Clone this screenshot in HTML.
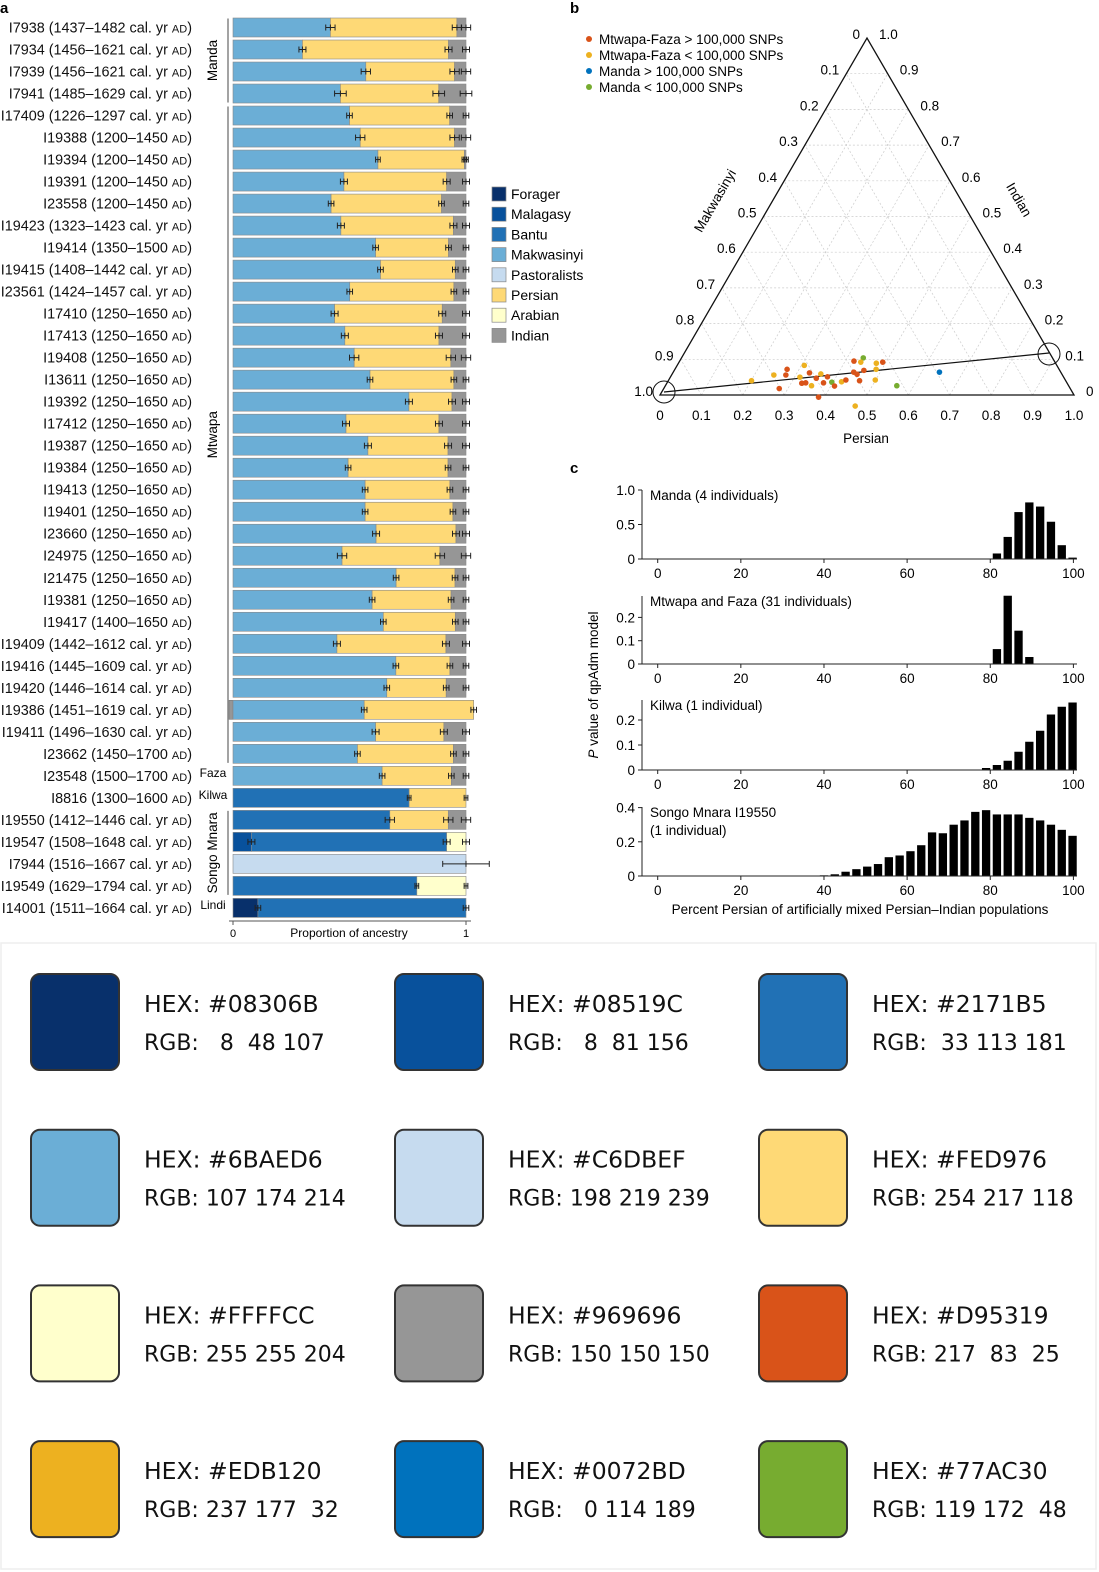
<!DOCTYPE html>
<html><head><meta charset="utf-8">
<style>
body{margin:0;background:#fff;}
svg{display:block;font-family:"Liberation Sans",Arial,sans-serif;}
.sw text{font-family:"DejaVu Sans","Liberation Sans",sans-serif;}
</style></head>
<body>
<svg id="fig" width="1099" height="1572" viewBox="0 0 1099 1572" xmlns="http://www.w3.org/2000/svg">
<rect x="0" y="0" width="1099" height="1572" fill="#fff"/>
<text x="0" y="13" font-size="15" font-weight="bold">a</text>
<text x="570" y="13" font-size="15" font-weight="bold">b</text>
<text x="570" y="473" font-size="15" font-weight="bold">c</text>
<g id="barA"></g>
<g id="tri"></g>
<g id="hist"></g>
<g id="sw" class="sw"></g>
</svg>
<script>
// ---------- Panel a data ----------
const sampleIds = ["I7938","I7934","I7939","I7941","I17409","I19388","I19394","I19391","I23558","I19423","I19414","I19415","I23561","I17410","I17413","I19408","I13611","I19392","I17412","I19387","I19384","I19413","I19401","I23660","I24975","I21475","I19381","I19417","I19409","I19416","I19420","I19386","I19411","I23662","I23548","I8816","I19550","I19547","I7944","I19549","I14001"];
const sampleDates = ["1437–1482 cal. yr ","1456–1621 cal. yr ","1456–1621 cal. yr ","1485–1629 cal. yr ","1226–1297 cal. yr ","1200–1450 ","1200–1450 ","1200–1450 ","1200–1450 ","1323–1423 cal. yr ","1350–1500 ","1408–1442 cal. yr ","1424–1457 cal. yr ","1250–1650 ","1250–1650 ","1250–1650 ","1250–1650 ","1250–1650 ","1250–1650 ","1250–1650 ","1250–1650 ","1250–1650 ","1250–1650 ","1250–1650 ","1250–1650 ","1250–1650 ","1250–1650 ","1400–1650 ","1442–1612 cal. yr ","1445–1609 cal. yr ","1446–1614 cal. yr ","1451–1619 cal. yr ","1496–1630 cal. yr ","1450–1700 ","1500–1700 ","1300–1600 ","1412–1446 cal. yr ","1508–1648 cal. yr ","1516–1667 cal. yr ","1629–1794 cal. yr ","1511–1664 cal. yr "];
const forager   = [0,0,0,0,0,0,0,0,0,0,0,0,0,0,0,0,0,0,0,0,0,0,0,0,0,0,0,0,0,0,0,0,0,0,0,0,0,0,0,0,0.107];
const malagasy  = [0,0,0,0,0,0,0,0,0,0,0,0,0,0,0,0,0,0,0,0,0,0,0,0,0,0,0,0,0,0,0,0,0,0,0,0,0,0.079,0,0,0];
const bantu     = [0,0,0,0,0,0,0,0,0,0,0,0,0,0,0,0,0,0,0,0,0,0,0,0,0,0,0,0,0,0,0,0,0,0,0,0.756,0.673,0.838,0,0.789,0.893];
const makwasinyi= [0.418,0.298,0.570,0.461,0.500,0.546,0.622,0.476,0.421,0.463,0.612,0.633,0.501,0.436,0.480,0.520,0.588,0.755,0.485,0.579,0.494,0.567,0.567,0.614,0.468,0.700,0.597,0.645,0.446,0.699,0.660,0.563,0.612,0.534,0.640,0,0,0,0,0,0];
const pastoral  = [0,0,0,0,0,0,0,0,0,0,0,0,0,0,0,0,0,0,0,0,0,0,0,0,0,0,0,0,0,0,0,0,0,0,0,0,0,0,1.0,0,0];
const persian   = [0.543,0.627,0.381,0.422,0.430,0.405,0.371,0.441,0.474,0.483,0.313,0.321,0.447,0.462,0.404,0.415,0.360,0.185,0.399,0.344,0.429,0.364,0.377,0.343,0.420,0.253,0.339,0.309,0.468,0.232,0.255,0.470,0.293,0.412,0.297,0.244,0.251,0,0,0,0];
const arabian   = [0,0,0,0,0,0,0,0,0,0,0,0,0,0,0,0,0,0,0,0,0,0,0,0,0,0,0,0,0,0,0,0,0,0,0,0,0,0.083,0,0.211,0];
const indian    = [0.039,0.075,0.049,0.117,0.070,0.049,0.007,0.083,0.105,0.054,0.075,0.046,0.052,0.102,0.116,0.065,0.052,0.060,0.116,0.077,0.077,0.069,0.056,0.043,0.112,0.047,0.064,0.046,0.086,0.069,0.085,-0.017,0.095,0.054,0.063,0,0.076,0,0,0,0];
const errHalf   = [0.02,0.015,0.02,0.025,0.012,0.02,0.01,0.015,0.012,0.015,0.012,0.012,0.012,0.015,0.015,0.02,0.012,0.015,0.015,0.015,0.012,0.012,0.012,0.015,0.02,0.012,0.012,0.012,0.015,0.012,0.012,0.012,0.015,0.012,0.012,0.008,0.02,0.015,0.1,0.008,0.012];
const compNames = ["Forager","Malagasy","Bantu","Makwasinyi","Pastoralists","Persian","Arabian","Indian"];
const compColors= ["#08306B","#08519C","#2171B5","#6BAED6","#C6DBEF","#FED976","#FFFFCC","#969696"];

// ---------- Panel b data ----------
const ptPersian = [0.201,0.247,0.276,0.271,0.279,0.307,0.313,0.326,0.335,0.330,0.353,0.354,0.359,0.386,0.378,0.379,0.397,0.409,0.420,0.428,0.421,0.439,0.439,0.436,0.447,0.462,0.458,0.487,0.478,0.492,0.486,0.499,0.559,0.643];
const ptIndian  = [0.040,0.056,0.056,0.072,0.018,0.083,0.050,0.033,0.034,0.062,0.026,0.047,0.059,-0.006,0.034,0.051,0.036,0.025,0.037,0.042,0.095,0.104,0.092,0.064,0.058,0.040,0.069,-0.031,0.089,0.092,0.072,0.042,0.026,0.064];
const ptGroup   = [1,1,0,0,0,1,1,0,0,0,1,0,1,0,0,0,3,0,1,0,0,3,1,0,0,0,0,1,1,0,1,1,3,2];
const groupNames = ["Mtwapa-Faza > 100,000 SNPs","Mtwapa-Faza < 100,000 SNPs","Manda > 100,000 SNPs","Manda < 100,000 SNPs"];
const groupColors = ["#D95319","#EDB120","#0072BD","#77AC30"];

// ---------- Panel c data ----------
const histTitles = [["Manda (4 individuals)"],["Mtwapa and Faza (31 individuals)"],["Kilwa (1 individual)"],["Songo Mnara I19550","(1 individual)"]];
const mandaX = [81.6,84.2,86.8,89.4,92.0,94.6,97.2,99.8];
const mandaP = [0.08,0.32,0.68,0.82,0.76,0.54,0.20,0.02];
const mtwapaX = [81.6,84.2,86.8,89.4];
const mtwapaP = [0.064,0.293,0.143,0.03];
const kilwaX = [76.4,79.0,81.6,84.2,86.8,89.4,92.0,94.6,97.2,99.8];
const kilwaP = [0.002,0.008,0.02,0.037,0.073,0.113,0.157,0.222,0.253,0.27];
const songoX = [37.4,40.0,42.6,45.2,47.8,50.4,53.0,55.6,58.2,60.8,63.4,66.0,68.6,71.2,73.8,76.4,79.0,81.6,84.2,86.8,89.4,92.0,94.6,97.2,99.8];
const songoP = [0.002,0.004,0.01,0.025,0.04,0.055,0.07,0.11,0.12,0.145,0.18,0.255,0.25,0.3,0.325,0.375,0.385,0.36,0.36,0.36,0.34,0.325,0.3,0.27,0.235];
const histTicksY = [[0,0.5,1.0],[0,0.1,0.2],[0,0.1,0.2],[0,0.2,0.4]];
const histTickLbl = [["0","0.5","1.0"],["0","0.1","0.2"],["0","0.1","0.2"],["0","0.2","0.4"]];
const xTicks = [0,20,40,60,80,100];

// ---------- Swatch data ----------
const swHex = ["#08306B","#08519C","#2171B5","#6BAED6","#C6DBEF","#FED976","#FFFFCC","#969696","#D95319","#EDB120","#0072BD","#77AC30"];
const swRgb = ["  8  48 107","  8  81 156"," 33 113 181","107 174 214","198 219 239","254 217 118","255 255 204","150 150 150","217  83  25","237 177  32","  0 114 189","119 172  48"];

const NS="http://www.w3.org/2000/svg";
function mk(parent,tag,attrs,text){const e=document.createElementNS(NS,tag);for(const k in attrs)e.setAttribute(k,attrs[k]);if(text!==undefined)e.textContent=text;parent.appendChild(e);return e;}

// ===== Panel a =====
(function(){
const g=document.getElementById('barA');
const X0=233,W=233,Y0=27.5,DY=22.01,BH=19;
const xs=v=>X0+W*v, ys=i=>Y0+DY*i;
const comps=[forager,malagasy,bantu,makwasinyi,pastoral,persian,arabian,indian];
sampleIds.forEach((id,i)=>{
  const y=ys(i);
  const t=mk(g,'text',{x:192,y:y+5,'font-size':14.4,'text-anchor':'end',fill:'#111'});
  
  
  t.textContent=id+' ('+sampleDates[i];
  mk(t,'tspan',{'font-size':11},'AD');
  mk(t,'tspan',{},')');
  let cum=0;
  if(indian[i]<0){
    const r=mk(g,'rect',{x:xs(indian[i]),y:y-BH/2,width:W*(-indian[i]),height:BH,fill:compColors[7],stroke:'#777','stroke-width':0.6});
    
    
  }
  const bounds=[];
  comps.forEach((arr,c)=>{
    const v=arr[i]; if(v<=0) return;
    const r=mk(g,'rect',{x:xs(cum),y:y-BH/2,width:W*v,height:BH,fill:compColors[c],stroke:'#888','stroke-width':0.6});
    
    
    cum+=v; bounds.push(cum);
  });
  bounds.forEach(b=>{
    const e=errHalf[i];
    mk(g,'line',{x1:xs(b-e),x2:xs(b+e),y1:y,y2:y,stroke:'#222','stroke-width':1});
    mk(g,'line',{x1:xs(b-e),x2:xs(b-e),y1:y-3,y2:y+3,stroke:'#222','stroke-width':1});
    mk(g,'line',{x1:xs(b+e),x2:xs(b+e),y1:y-3,y2:y+3,stroke:'#222','stroke-width':1});
    mk(g,'line',{x1:xs(b),x2:xs(b),y1:y-3,y2:y+3,stroke:'#222','stroke-width':1});
  });
});
const grp=[["Manda",0,3],["Mtwapa",4,33],["Songo Mnara",36,39]];
grp.forEach(([n,a,b])=>{
  mk(g,'line',{x1:228,x2:228,y1:ys(a)-9,y2:ys(b)+9,stroke:'#666','stroke-width':1.2});
  const t=mk(g,'text',{x:0,y:0,'font-size':13.5,'text-anchor':'middle',transform:`translate(217,${(ys(a)+ys(b))/2}) rotate(-90)`},n);
  
  
});
[["Faza",34],["Kilwa",35],["Lindi",40]].forEach(([n,i])=>{
  const t=mk(g,'text',{x:213,y:ys(i)+1,'font-size':12,'text-anchor':'middle'},n);
  
  
});
mk(g,'line',{x1:229,x2:471,y1:921,y2:921,stroke:'#555','stroke-width':1});
[0,1].forEach(v=>{mk(g,'line',{x1:xs(v),x2:xs(v),y1:921,y2:925,stroke:'#555'});
  const t=mk(g,'text',{x:xs(v),y:937,'font-size':11,'text-anchor':'middle'},String(v));
  
  });
const xt=mk(g,'text',{x:349,y:937,'font-size':12,'text-anchor':'middle'},'Proportion of ancestry');


compNames.forEach((n,c)=>{
  const y=194+20.2*c;
  const r=mk(g,'rect',{x:492,y:y-7,width:14,height:14,fill:compColors[c],stroke:'#888','stroke-width':0.7});
  
  
  const t=mk(g,'text',{x:511,y:y+5,'font-size':14},n);
  
  
});
})();

// ===== Panel b =====
(function(){
const g=document.getElementById('tri');
const BLx=660,BLy=395,W=414,H=357;
const px=(p,i)=>BLx+W*(p+i/2), py=(p,i)=>BLy-H*i;
for(let k=1;k<10;k++){const v=k/10;
  mk(g,'line',{x1:px(0,v),y1:py(0,v),x2:px(1-v,v),y2:py(1-v,v),stroke:'#ccc','stroke-width':0.7,'stroke-dasharray':'2,2'});
  mk(g,'line',{x1:px(v,0),y1:py(v,0),x2:px(v,1-v),y2:py(v,1-v),stroke:'#ccc','stroke-width':0.7,'stroke-dasharray':'2,2'});
  mk(g,'line',{x1:px(v,0),y1:py(v,0),x2:px(0,v),y2:py(0,v),stroke:'#ccc','stroke-width':0.7,'stroke-dasharray':'2,2'});
}
const tri=mk(g,'polygon',{points:`${px(0,0)},${py(0,0)} ${px(1,0)},${py(1,0)} ${px(0,1)},${py(0,1)}`,fill:'none',stroke:'#111','stroke-width':1.3});


for(let k=0;k<=10;k++){const v=k/10,l=(k===0?'0':k===10?'1.0':v.toFixed(1));
  let t=mk(g,'text',{x:px(v,0),y:BLy+25,'font-size':13.5,'text-anchor':'middle'},l);
  
  
  t=mk(g,'text',{x:px(0,1-v)-7,y:py(0,1-v)+1,'font-size':13.5,'text-anchor':'end'},l);
  
  
  t=mk(g,'text',{x:px(1-v,v)+12,y:py(1-v,v)+1,'font-size':13.5},l);
  
  
}
let t=mk(g,'text',{x:866,y:443,'font-size':13.5,'text-anchor':'middle'},'Persian');


t=mk(g,'text',{x:0,y:0,'font-size':13.5,'text-anchor':'middle',transform:'translate(719,203) rotate(-60)'},'Makwasinyi');


t=mk(g,'text',{x:0,y:0,'font-size':13.5,'text-anchor':'middle',transform:'translate(1015,202) rotate(60)'},'Indian');


mk(g,'line',{x1:664,y1:392,x2:1049,y2:353,stroke:'#111','stroke-width':1.2});
mk(g,'circle',{cx:664,cy:392,r:11,fill:'none',stroke:'#111','stroke-width':1});
mk(g,'circle',{cx:1049,cy:354,r:11,fill:'none',stroke:'#111','stroke-width':1});
ptPersian.forEach((p,k)=>{
  const c=mk(g,'circle',{cx:px(p,ptIndian[k]),cy:py(p,ptIndian[k]),r:2.8,fill:groupColors[ptGroup[k]]});
  
  
});
groupNames.forEach((n,k)=>{
  const y=39+16*k;
  mk(g,'circle',{cx:589,cy:y,r:3,fill:groupColors[k]});
  const tt=mk(g,'text',{x:599,y:y+5,'font-size':13.5},n);
  
  
});
})();

// ===== Panel c =====
(function(){
const g=document.getElementById('hist');
const xs=v=>657.7+4.157*v;
const panels=[{y0:559,s:69,top:490,X:mandaX,P:mandaP},{y0:664,s:233,top:596,X:mtwapaX,P:mtwapaP},{y0:770,s:250,top:700,X:kilwaX,P:kilwaP},{y0:876,s:171,top:807,X:songoX,P:songoP}];
panels.forEach((pn,k)=>{
  const ys=v=>pn.y0-pn.s*v;
  pn.X.forEach((x,j)=>{
    const h=pn.s*pn.P[j];
    const r=mk(g,'rect',{x:xs(x-1),y:ys(pn.P[j]),width:4.157*2,height:h,fill:'#000'});
    
    
  });
  mk(g,'line',{x1:642,x2:1077,y1:pn.y0,y2:pn.y0,stroke:'#222','stroke-width':1});
  mk(g,'line',{x1:642,x2:642,y1:pn.top,y2:pn.y0,stroke:'#222','stroke-width':1});
  histTicksY[k].forEach((v,j)=>{
    mk(g,'line',{x1:638,x2:642,y1:ys(v),y2:ys(v),stroke:'#222'});
    const t=mk(g,'text',{x:635,y:ys(v)+5,'font-size':13.5,'text-anchor':'end'},histTickLbl[k][j]);
    
    
  });
  xTicks.forEach(v=>{
    mk(g,'line',{x1:xs(v),x2:xs(v),y1:pn.y0,y2:pn.y0+4,stroke:'#222'});
    const t=mk(g,'text',{x:xs(v),y:pn.y0+19,'font-size':13.5,'text-anchor':'middle'},String(v));
    
    
  });
  histTitles[k].forEach((s,j)=>{
    const t=mk(g,'text',{x:650,y:pn.top+10+18*j,'font-size':13.5},s);
    
    
  });
});
let t=mk(g,'text',{x:0,y:0,'font-size':13.5,'text-anchor':'middle',transform:'translate(598,685) rotate(-90)'});


mk(t,'tspan',{'font-style':'italic'},'P');
mk(t,'tspan',{},' value of qpAdm model');
t=mk(g,'text',{x:860,y:914,'font-size':13.5,'text-anchor':'middle'},'Percent Persian of artificially mixed Persian–Indian populations');


})();

// ===== Swatches =====
(function(){
const g=document.getElementById('sw');
mk(g,'rect',{x:1,y:943,width:1095,height:626,fill:'#fff',stroke:'#eee','stroke-width':1.5});
swHex.forEach((h,k)=>{
  const col=k%3,row=Math.floor(k/3);
  const x=31+364*col,y=974+155.7*row;
  const r=mk(g,'rect',{x:x,y:y,width:88,height:96,rx:9,fill:h,stroke:'#333','stroke-width':2});
  
  
  let t=mk(g,'text',{x:x+113,y:y+38,'font-size':23.5,fill:'#111'},'HEX: '+h);
  
  
  t=mk(g,'text',{x:x+113,y:y+76,'font-size':22,fill:'#111','style':'white-space:pre'},'RGB: '+swRgb[k]);
  
  
});
})();
</script>
</body></html>
